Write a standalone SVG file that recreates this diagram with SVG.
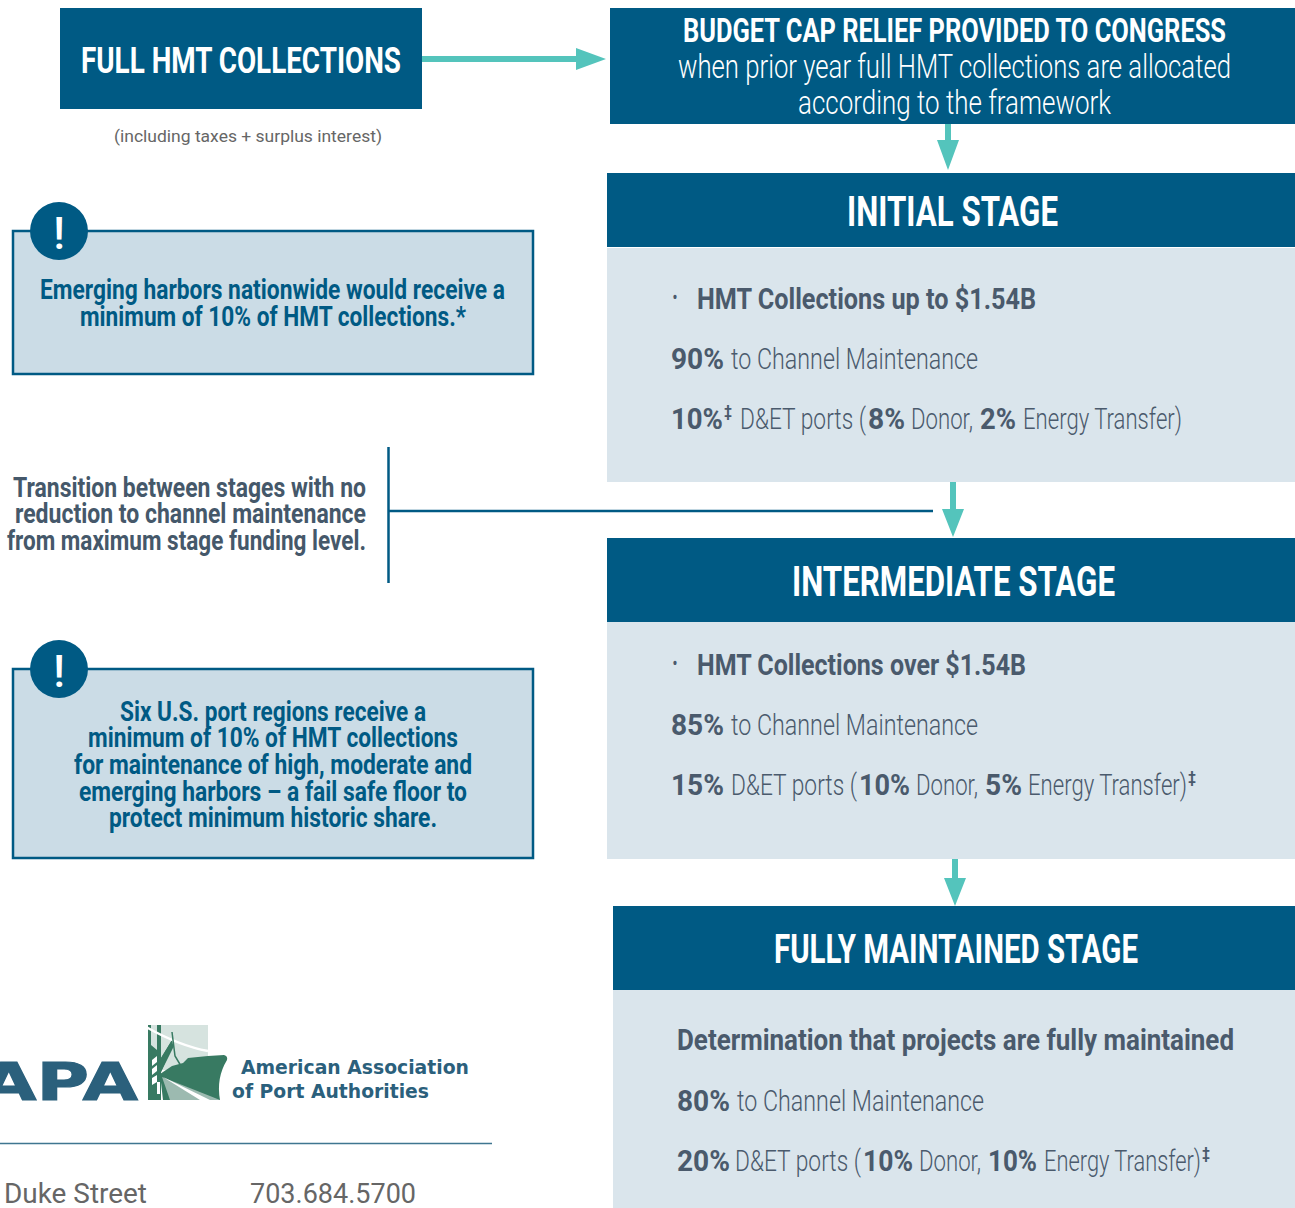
<svg xmlns="http://www.w3.org/2000/svg" width="1295" height="1208" viewBox="0 0 1295 1208">
<defs><style>
text{font-family:Roboto,"Liberation Sans",sans-serif;}
.h{fill:#005a84}.p{fill:#dae5ec}
.cb{fill:#cbdce6;stroke:#005a84;stroke-width:2.5}
.big{font-size:43px;font-weight:700;fill:#fff}
.t1{font-size:34px;font-weight:700;fill:#fff}
.t2{font-size:33px;font-weight:300;fill:#fff}
.b{font-size:30px;font-weight:700;fill:#4a5a6c}
.l{font-size:30px;font-weight:300;fill:#4a5a6c}
.s{font-size:16px;font-weight:700;fill:#4a5a6c}
.c{font-size:28px;font-weight:700;fill:#005a84}
.tr{font-size:28px;font-weight:700;fill:#45586a}
.ex{font-size:44px;font-weight:500;fill:#fff;text-anchor:middle}
.note{font-size:17px;fill:#666}
.addr{font-size:28px;fill:#666}
.lg{font-family:"DejaVu Sans",sans-serif;font-size:20px;font-weight:700;fill:#2b607c}
.ct{fill:#54c4bc}
.ln{stroke:#005a84;stroke-width:2.5;fill:none}
.gr{fill:#387a62}
</style></defs>

<g id="connectors">
<path class="ct" d="M422 56H576V48L606 59L576 70V62H422Z"/>
<path class="ct" d="M945 124H951V140H959L948 170L937 140H945Z"/>
<path class="ct" d="M950 482H956V509H964L953 537L942 509H950Z"/>
<path class="ct" d="M952 859H958V878H966L955 906L944 878H952Z"/>
<path class="ln" d="M388.500 447V583M388 511H933"/>
</g>

<g id="full-hmt">
<rect class="h" x="60" y="8" width="362" height="101"/>
<text class="t1" x="81" y="73" style="font-size:36px" textLength="320" lengthAdjust="spacingAndGlyphs">FULL HMT COLLECTIONS</text>
<text class="note" x="114" y="142" textLength="268" lengthAdjust="spacingAndGlyphs">(including taxes + surplus interest)</text>
</g>

<g id="budget-cap">
<rect class="h" x="610" y="8" width="685" height="116"/>
<text class="t1" x="683" y="42" textLength="543" lengthAdjust="spacingAndGlyphs">BUDGET CAP RELIEF PROVIDED TO CONGRESS</text>
<text class="t2" x="678" y="78" textLength="553" lengthAdjust="spacingAndGlyphs">when prior year full HMT collections are allocated</text>
<text class="t2" x="798" y="114" textLength="313" lengthAdjust="spacingAndGlyphs">according to the framework</text>
</g>

<g id="initial-stage">
<rect class="h" x="607" y="173" width="688" height="74"/>
<rect class="p" x="607" y="248" width="688" height="234"/>
<text class="big" x="847" y="226" textLength="211" lengthAdjust="spacingAndGlyphs">INITIAL STAGE</text>
<text class="b" x="672" y="307" textLength="6" lengthAdjust="spacingAndGlyphs">·</text>
<text class="b" x="697" y="309" textLength="339" lengthAdjust="spacingAndGlyphs">HMT Collections up to $1.54B</text>
<text class="b" x="671" y="369" textLength="53" lengthAdjust="spacingAndGlyphs">90%</text>
<text class="l" x="731" y="369" textLength="247" lengthAdjust="spacingAndGlyphs">to Channel Maintenance</text>
<text class="b" x="671" y="429" textLength="52" lengthAdjust="spacingAndGlyphs">10%</text>
<text class="s" x="724" y="417" textLength="8" lengthAdjust="spacingAndGlyphs">‡</text>
<text class="l" x="740" y="429" textLength="126" lengthAdjust="spacingAndGlyphs">D&amp;ET ports (</text>
<text class="b" x="868" y="429" textLength="37" lengthAdjust="spacingAndGlyphs">8%</text>
<text class="l" x="911" y="429" textLength="62" lengthAdjust="spacingAndGlyphs">Donor,</text>
<text class="b" x="980" y="429" textLength="36" lengthAdjust="spacingAndGlyphs">2%</text>
<text class="l" x="1023" y="429" textLength="159" lengthAdjust="spacingAndGlyphs">Energy Transfer)</text>
</g>

<g id="intermediate-stage">
<rect class="h" x="607" y="538" width="688" height="84"/>
<rect class="p" x="607" y="622" width="688" height="237"/>
<text class="big" x="792" y="596" textLength="323" lengthAdjust="spacingAndGlyphs">INTERMEDIATE STAGE</text>
<text class="b" x="672" y="673" textLength="6" lengthAdjust="spacingAndGlyphs">·</text>
<text class="b" x="697" y="675" textLength="329" lengthAdjust="spacingAndGlyphs">HMT Collections over $1.54B</text>
<text class="b" x="671" y="735" textLength="53" lengthAdjust="spacingAndGlyphs">85%</text>
<text class="l" x="731" y="735" textLength="247" lengthAdjust="spacingAndGlyphs">to Channel Maintenance</text>
<text class="b" x="671" y="795" textLength="53" lengthAdjust="spacingAndGlyphs">15%</text>
<text class="l" x="731" y="795" textLength="126" lengthAdjust="spacingAndGlyphs">D&amp;ET ports (</text>
<text class="b" x="859" y="795" textLength="51" lengthAdjust="spacingAndGlyphs">10%</text>
<text class="l" x="916" y="795" textLength="62" lengthAdjust="spacingAndGlyphs">Donor,</text>
<text class="b" x="985" y="795" textLength="37" lengthAdjust="spacingAndGlyphs">5%</text>
<text class="l" x="1028" y="795" textLength="159" lengthAdjust="spacingAndGlyphs">Energy Transfer)</text>
<text class="s" x="1188" y="783" textLength="8" lengthAdjust="spacingAndGlyphs">‡</text>
</g>

<g id="fully-maintained-stage">
<rect class="h" x="613" y="906" width="682" height="84"/>
<rect class="p" x="613" y="990" width="682" height="218"/>
<text class="big" x="774" y="963" style="font-size:40px" textLength="364" lengthAdjust="spacingAndGlyphs">FULLY MAINTAINED STAGE</text>
<text class="b" x="677" y="1050" textLength="557" lengthAdjust="spacingAndGlyphs">Determination that projects are fully maintained</text>
<text class="b" x="677" y="1111" textLength="53" lengthAdjust="spacingAndGlyphs">80%</text>
<text class="l" x="737" y="1111" textLength="247" lengthAdjust="spacingAndGlyphs">to Channel Maintenance</text>
<text class="b" x="677" y="1171" textLength="53" lengthAdjust="spacingAndGlyphs">20%</text>
<text class="l" x="735" y="1171" textLength="126" lengthAdjust="spacingAndGlyphs">D&amp;ET ports (</text>
<text class="b" x="863" y="1171" textLength="50" lengthAdjust="spacingAndGlyphs">10%</text>
<text class="l" x="919" y="1171" textLength="62" lengthAdjust="spacingAndGlyphs">Donor,</text>
<text class="b" x="988" y="1171" textLength="49" lengthAdjust="spacingAndGlyphs">10%</text>
<text class="l" x="1044" y="1171" textLength="157" lengthAdjust="spacingAndGlyphs">Energy Transfer)</text>
<text class="s" x="1202" y="1159" textLength="8" lengthAdjust="spacingAndGlyphs">‡</text>
</g>

<g id="callout-emerging">
<rect class="cb" x="13" y="231" width="520" height="143"/>
<circle class="h" cx="59" cy="231" r="29"/>
<text class="ex" x="59" y="249">!</text>
<text class="c" x="40" y="299" textLength="465" lengthAdjust="spacingAndGlyphs">Emerging harbors nationwide would receive a</text>
<text class="c" x="80" y="326" textLength="386" lengthAdjust="spacingAndGlyphs">minimum of 10% of HMT collections.*</text>
</g>

<g id="transition-note">
<text class="tr" x="13" y="497" textLength="353" lengthAdjust="spacingAndGlyphs">Transition between stages with no</text>
<text class="tr" x="15" y="523" textLength="351" lengthAdjust="spacingAndGlyphs">reduction to channel maintenance</text>
<text class="tr" x="7" y="550" textLength="359" lengthAdjust="spacingAndGlyphs">from maximum stage funding level.</text>
</g>

<g id="callout-regions">
<rect class="cb" x="13" y="669" width="520" height="189"/>
<circle class="h" cx="59" cy="669" r="29"/>
<text class="ex" x="59" y="687">!</text>
<text class="c" x="120" y="721" textLength="306" lengthAdjust="spacingAndGlyphs">Six U.S. port regions receive a</text>
<text class="c" x="88" y="747" textLength="370" lengthAdjust="spacingAndGlyphs">minimum of 10% of HMT collections</text>
<text class="c" x="74" y="774" textLength="398" lengthAdjust="spacingAndGlyphs">for maintenance of high, moderate and</text>
<text class="c" x="79" y="801" textLength="388" lengthAdjust="spacingAndGlyphs">emerging harbors – a fail safe floor to</text>
<text class="c" x="109" y="827" textLength="328" lengthAdjust="spacingAndGlyphs">protect minimum historic share.</text>
</g>

<g id="logo">
<text x="-19" y="1100" style="font-family:'DejaVu Sans',sans-serif;font-size:51px;font-weight:700;fill:#2b607c;stroke:#2b607c;stroke-width:1" textLength="157" lengthAdjust="spacingAndGlyphs">APA</text>
<rect x="148" y="1025" width="60" height="45" fill="#d6e3df"/>
<path class="gr" d="M148 1025H151V1045L157 1050V1025H161V1058L172 1040L173.500 1047L161 1072V1100H148Z"/>
<path d="M161 1058V1072L172 1047V1040Z" fill="#387a62"/>
<path d="M152 1060l5-4v6l-5 4zM152 1069l5-4v6l-5 4zM152 1078l5-3v7l-5 3zM157 1082h3v12h-3z" fill="#fff"/>
<path d="M146 1027Q180 1046 208 1051" fill="none" stroke="#fff" stroke-width="2.500"/>
<path d="M172 1032L175 1056L181 1066" fill="none" stroke="#387a62" stroke-width="1.500"/>
<path class="gr" d="M160 1074L172 1066L183 1063L188 1058L208 1056L224 1055Q228 1056 227 1060Q216 1078 220 1100H163Z"/>
<path d="M162 1077L220 1100H170Z" fill="#9cbab0"/>
<path d="M163 1077L200 1100H210Z" fill="#fff"/>
<text class="lg" x="241" y="1074" textLength="228" lengthAdjust="spacingAndGlyphs">American Association</text>
<text class="lg" x="232" y="1098" textLength="197" lengthAdjust="spacingAndGlyphs">of Port Authorities</text>
</g>

<g id="footer">
<path d="M0 1143.500H492" stroke="#3f7690" stroke-width="1.500" fill="none"/>
<text class="addr" x="4" y="1203" textLength="143" lengthAdjust="spacingAndGlyphs">Duke Street</text>
<text class="addr" x="250" y="1203" textLength="166" lengthAdjust="spacingAndGlyphs">703.684.5700</text>
</g>
</svg>
